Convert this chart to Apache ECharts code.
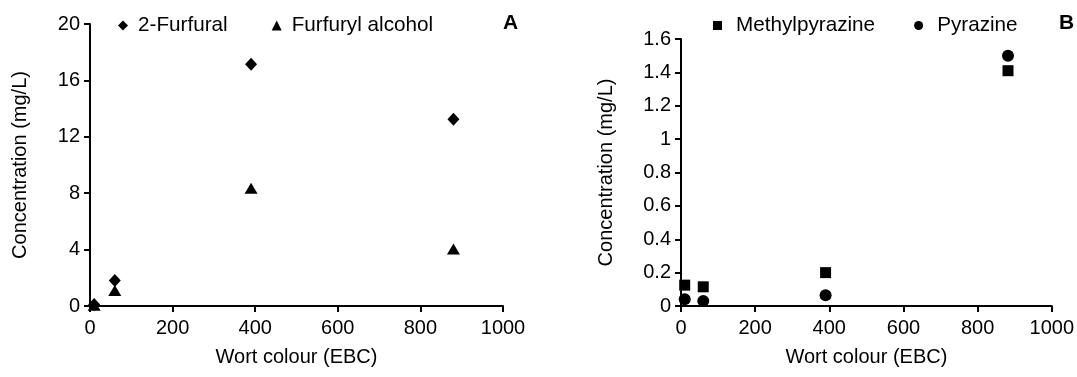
<!DOCTYPE html>
<html><head><meta charset="utf-8">
<script src="https://cdn.jsdelivr.net/npm/echarts@6/dist/echarts.min.js"></script>
<style>html,body{margin:0;padding:0;background:#fff}#c{width:1077px;height:377px}</style>
</head><body><div id="c"></div>
<script>
// Panel A data
const wortA = [10, 60, 390, 880];
const furfural = [0.1, 1.8, 17.15, 13.25];
const furfurylAlcohol = [0.05, 1.1, 8.35, 4.05];
// Panel B data
const wortB = [10, 60, 390, 882];
const methylpyrazine = [0.125, 0.115, 0.2, 1.41];
const pyrazine = [0.04, 0.03, 0.065, 1.5];
const xTicks = [0, 200, 400, 600, 800, 1000];

const F = '"Liberation Sans", Arial, sans-serif';
const fs = 20;
const lfs = 20.7;
const pair = (xs, ys) => xs.map((x, i) => [x, ys[i]]);

function xAx(gi) {
  return {
    gridIndex: gi, type: 'value', min: xTicks[0], max: xTicks[xTicks.length - 1], interval: xTicks[1] - xTicks[0],
    name: 'Wort colour (EBC)', nameLocation: 'middle', nameGap: 41,
    nameTextStyle: {fontFamily: F, fontSize: fs, color: '#000'},
    axisLine: {lineStyle: {color: '#000', width: 2}},
    axisTick: {lineStyle: {color: '#000', width: 2}, length: 6},
    axisLabel: {fontFamily: F, fontSize: fs, color: '#000', margin: 12, formatter: v => String(v)},
    splitLine: {show: false}
  };
}
function yAx(gi, max, interval, gap) {
  return {
    gridIndex: gi, type: 'value', min: 0, max: max, interval: interval,
    name: 'Concentration (mg/L)', nameLocation: 'middle', nameGap: gap, nameRotate: 90,
    nameTextStyle: {fontFamily: F, fontSize: fs, color: '#000'},
    axisLine: {show: true, lineStyle: {color: '#000', width: 2}},
    axisTick: {show: true, lineStyle: {color: '#000', width: 2}, length: 6},
    axisLabel: {fontFamily: F, fontSize: fs, color: '#000', margin: 10, formatter: v => String(v)},
    splitLine: {show: false}
  };
}

const chart = echarts.init(document.getElementById('c'), null, {renderer: 'canvas'});
chart.setOption({
  backgroundColor: '#fff',
  animation: false,
  grid: [
    {left: 90, right: 574, top: 24, bottom: 71},
    {left: 681, right: 24, top: 39, bottom: 71}
  ],
  xAxis: [xAx(0), xAx(1)],
  yAxis: [yAx(0, 20, 4, 60), yAx(1, 1.6, 0.2, 65)],
  legend: [
    {data: ['2-Furfural', 'Furfuryl alcohol'], left: 118, top: 15, itemGap: 44, padding: 0,
     itemWidth: 10, itemHeight: 10,
     textStyle: {fontFamily: F, fontSize: lfs, color: '#000', padding: [0, 0, 0, 5]}},
    {data: ['Methylpyrazine', 'Pyrazine'], left: 713, top: 15, itemGap: 39, padding: 0,
     itemWidth: 9, itemHeight: 9,
     textStyle: {fontFamily: F, fontSize: lfs, color: '#000', padding: [0, 0, 0, 9]}}
  ],
  graphic: [
    {type: 'text', left: 503, top: 13, style: {text: 'A', font: 'bold 21px ' + F, fill: '#000'}},
    {type: 'text', left: 1059, top: 13, style: {text: 'B', font: 'bold 21px ' + F, fill: '#000'}}
  ],
  series: [
    {name: '2-Furfural', type: 'scatter', xAxisIndex: 0, yAxisIndex: 0, symbol: 'diamond', symbolSize: [12, 13],
     itemStyle: {color: '#000', opacity: 1}, data: pair(wortA, furfural)},
    {name: 'Furfuryl alcohol', type: 'scatter', xAxisIndex: 0, yAxisIndex: 0, symbol: 'triangle', symbolSize: [13, 11],
     itemStyle: {color: '#000', opacity: 1}, data: pair(wortA, furfurylAlcohol)},
    {name: 'Methylpyrazine', type: 'scatter', xAxisIndex: 1, yAxisIndex: 1, symbol: 'rect', symbolSize: 11,
     itemStyle: {color: '#000', opacity: 1}, data: pair(wortB, methylpyrazine)},
    {name: 'Pyrazine', type: 'scatter', xAxisIndex: 1, yAxisIndex: 1, symbol: 'circle', symbolSize: 12,
     itemStyle: {color: '#000', opacity: 1}, data: pair(wortB, pyrazine)}
  ]
});
</script></body></html>
